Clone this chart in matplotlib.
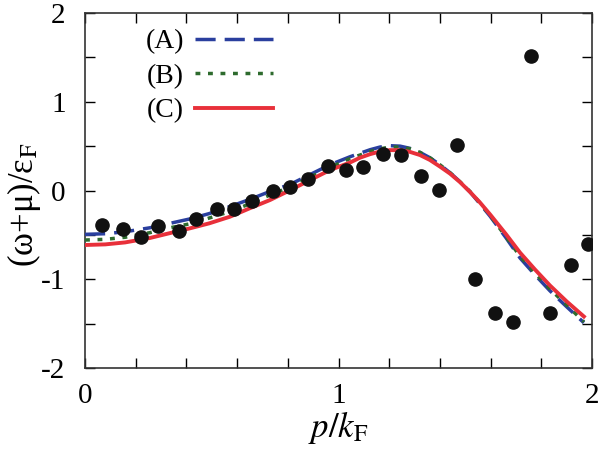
import matplotlib
matplotlib.use("Agg")
import matplotlib.pyplot as plt
from matplotlib.ticker import MultipleLocator

plt.rcParams['font.family'] = 'serif'
plt.rcParams['font.serif'] = ['Liberation Serif', 'DejaVu Serif']
plt.rcParams['mathtext.fontset'] = 'stix'
plt.rcParams['axes.unicode_minus'] = False

# data points (symbols)
px = [0.068, 0.149, 0.22, 0.289, 0.37, 0.439, 0.52, 0.589, 0.659, 0.74,
      0.809, 0.878, 0.959, 1.028, 1.097, 1.177, 1.248, 1.327, 1.396, 1.467,
      1.537, 1.616, 1.687, 1.758, 1.836, 1.916, 1.985]
py = [-0.389, -0.43, -0.524, -0.396, -0.46, -0.321, -0.208, -0.212, -0.118, -0.006,
      0.039, 0.13, 0.276, 0.231, 0.261, 0.411, 0.396, 0.163, 0.002, 0.513,
      -0.993, -1.38, -1.48, 1.516, -1.38, -0.839, -0.599]

# curves, read on a common p grid
p_curve = [0, 0.08, 0.158, 0.256, 0.335, 0.414, 0.49, 0.572, 0.65, 0.73, 0.81, 0.888,
           0.966, 1.045, 1.085, 1.125, 1.164, 1.203, 1.243, 1.282, 1.321, 1.36,
           1.40, 1.44, 1.479, 1.52, 1.558, 1.598, 1.66, 1.716, 1.775, 1.834, 1.90, 1.968]
ya = [-0.494, -0.487, -0.465, -0.42, -0.37, -0.32, -0.26, -0.18, -0.10, -0.01, 0.07, 0.18,
      0.29, 0.38, 0.42, 0.46, 0.49, 0.505, 0.50, 0.475, 0.43, 0.37,
      0.29, 0.20, 0.10, -0.02, -0.15, -0.29, -0.53, -0.76, -0.95, -1.13, -1.31, -1.49]
yb = [-0.558, -0.55, -0.527, -0.475, -0.42, -0.375, -0.31, -0.238, -0.15, -0.05, 0.04, 0.15,
      0.26, 0.36, 0.40, 0.44, 0.47, 0.49, 0.49, 0.47, 0.43, 0.37,
      0.29, 0.20, 0.10, -0.015, -0.14, -0.28, -0.52, -0.74, -0.93, -1.11, -1.29, -1.48]
yc = [-0.614, -0.607, -0.585, -0.535, -0.48, -0.426, -0.37, -0.295, -0.20, -0.107, 0.005, 0.118,
      0.23, 0.315, 0.37, 0.41, 0.44, 0.455, 0.455, 0.435, 0.40, 0.345,
      0.27, 0.19, 0.095, -0.02, -0.135, -0.27, -0.49, -0.70, -0.89, -1.07, -1.25, -1.42]

fig = plt.figure(figsize=(6.09, 4.65), dpi=100)
ax = fig.add_axes([0.1396, 0.2086, 0.8325, 0.7634])

ax.plot(p_curve, ya, color='#2a3f9e', lw=2.5, dashes=(5.8, 2.6), label='(A)', zorder=3)
ax.plot(p_curve, yb, color='#2e6b2e', lw=2.5, dashes=(1.4, 2.2), label='(B)', zorder=3)
ax.plot(p_curve, yc, color='#e8303a', lw=2.8, label='(C)', zorder=4)
ax.plot(px, py, 'o', color='#111111', ms=9.5, zorder=5)

ax.set_xlim(0, 2)
ax.set_ylim(-2, 2)
ax.xaxis.set_major_locator(MultipleLocator(1))
ax.xaxis.set_minor_locator(MultipleLocator(0.2))
ax.yaxis.set_major_locator(MultipleLocator(1))
ax.yaxis.set_minor_locator(MultipleLocator(0.5))
ax.tick_params(which='both', direction='in', top=True, right=True, width=1)
ax.tick_params(which='major', length=7)
ax.tick_params(which='minor', length=7)
ax.tick_params(axis='y', which='major', pad=14, labelsize=21)
ax.tick_params(axis='x', which='major', pad=11, labelsize=21)
for s in ax.spines.values():
    s.set_linewidth(1.2)
    s.set_color('#333333')

ax.set_xlabel(r'$p/k_{\rm F}$', fontsize=25, labelpad=0)
ax.set_ylabel(r'(ω+μ)/ε$_{\rm F}$', fontsize=25)
ax.yaxis.set_label_coords(-0.082, 0.46)

leg = ax.legend(loc='upper left', bbox_to_anchor=(0.07, 1.025), frameon=False,
                markerfirst=False, fontsize=20, handlelength=2.8,
                labelspacing=0.32, handletextpad=0.4)

fig.savefig('out.png', dpi=100)
